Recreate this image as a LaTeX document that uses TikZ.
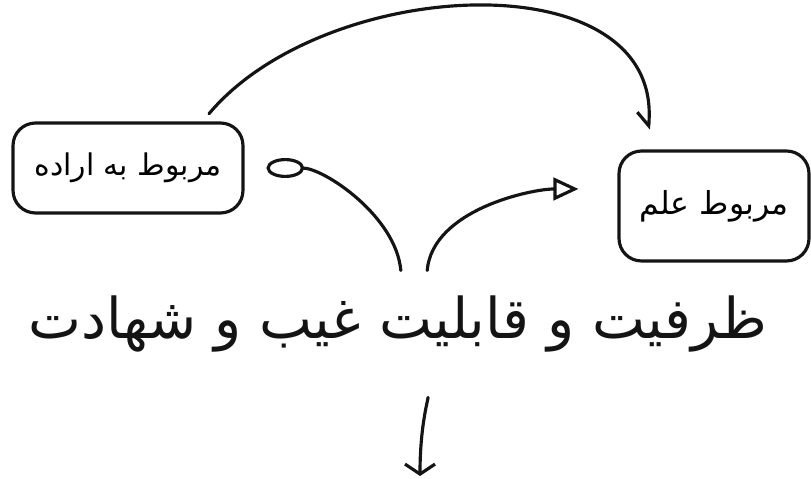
\documentclass[tikz,border=0pt]{standalone}
\usepackage{fontspec}
\newfontfamily\arabicfont[Script=Arabic]{DejaVu Sans}
\TeXXeTstate=1
\usetikzlibrary{arrows.meta,positioning}
\colorlet{ink}{black!92}
\tikzset{
  box/.style={draw=ink, line width=1.8pt, rounded corners=0.45cm, inner sep=0pt},
  conn/.style={draw=ink, line width=1.8pt, line cap=round},
  label/.style={text=ink, inner sep=0pt},
}

\begin{document}
\begin{tikzpicture}[x=0.02cm,y=-0.02cm]
  \useasboundingbox (0,0) rectangle (811,479);

  \node(lbox)[box, minimum width=4.6cm, minimum height=1.8cm] at (128,168)
    {\arabicfont\fontsize{17}{20}\selectfont\beginR مربوط به اراده\endR};
  \node(rbox)[box, minimum width=3.8cm, minimum height=2.2cm] at (714,206)
    {\arabicfont\fontsize{18}{22}\selectfont\beginR مربوط علم\endR};
  \node(wit)[label] at (398,324)
    {\arabicfont\fontsize{32}{36}\selectfont\beginR ظرفیت و قابلیت غیب و شهادت\endR};
  \coordinate (down) at (420,476);

  % arc between the two boxes
  \draw[conn, -{Straight Barb[harpoon,swap,length=0.25cm,width=0.5cm]}, shorten <=0.2cm, shorten >=0.4cm]
    (lbox.32) to[out=50, in=85, looseness=1.1] (rbox.140);

  % from the text to the boxes
  \draw[conn, -{Ellipse[open,length=0.75cm,width=0.4cm]}, shorten <=0.5cm, shorten >=0.44cm]
    ([xshift=0.1cm]wit.north) to[out=95, in=0] (lbox.east);
  \draw[conn, -{Triangle[open,length=0.5cm,width=0.45cm]}, shorten <=0.5cm, shorten >=0.78cm]
    ([xshift=0.54cm]wit.north) to[out=85, in=180] (rbox.170);

  \draw[conn, -{Straight Barb[length=0.2cm,width=0.6cm]}, shorten <=0.9cm]
    ([xshift=0.68cm]wit.south) to[out=-95, in=90] (down);
\end{tikzpicture}
\end{document}
